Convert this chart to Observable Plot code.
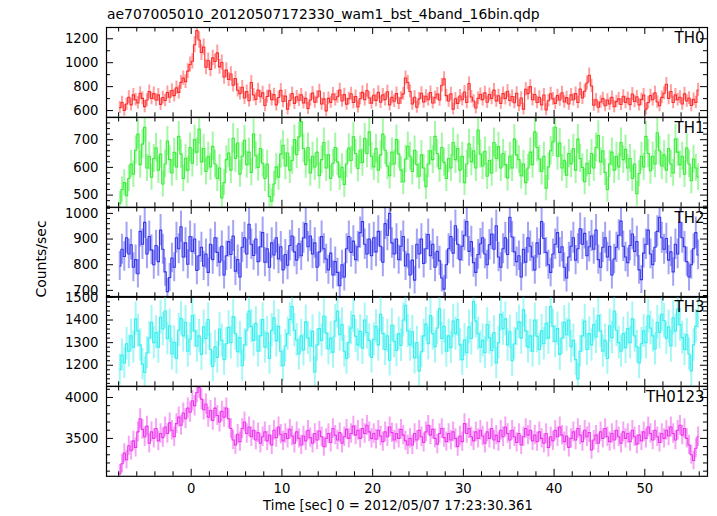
<!DOCTYPE html>
<html><head><meta charset="utf-8">
<script src="https://cdn.jsdelivr.net/npm/d3@7"></script>
<script src="https://cdn.jsdelivr.net/npm/@observablehq/plot@0.6"></script>
<style>
body{margin:0;background:#fff;}
#chart{position:relative;width:717px;height:516px;overflow:hidden;font-family:"DejaVu Sans",sans-serif;color:#000;}
#title{position:absolute;left:107px;top:7.7px;font-size:13.9px;line-height:1;white-space:nowrap;}
#ylab{position:absolute;left:41px;top:259px;font-size:14px;line-height:1;white-space:nowrap;transform:translate(-50%,-50%) rotate(-90deg);}
.panel{position:absolute;left:0;}
</style></head><body>
<div id="chart">
<div id="title">ae707005010_20120507172330_wam1_bst_4band_16bin.qdp</div>
<div id="ylab">Counts/sec</div>
</div>
<script>
// time bins: 0.25 s bins, first bin centre
const binStart = -7.875;
const binWidth = 0.25;
const xTickLabels = [0, 10, 20, 30, 40, 50];
const xLabel = "Time [sec] 0 = 2012/05/07 17:23:30.361";
const panelNames = ["TH0", "TH1", "TH2", "TH3", "TH0123"];

const th0 = [
625,668,602,655,712,648,731,690,664,745,702,633,689,758,701,742,
688,731,652,709,684,751,712,768,725,790,752,836,871,842,930,985,
1012,1150,1268,1190,1085,1130,962,1018,944,1040,1010,1082,965,1002,880,938,
860,905,812,868,770,742,795,705,758,682,835,730,694,772,715,748,
642,718,765,690,733,648,709,770,676,721,612,684,742,660,715,687,
731,664,702,618,688,746,671,712,764,655,698,598,702,669,738,690,
715,772,680,733,654,700,741,668,718,630,699,752,690,768,705,662,
728,685,752,670,731,692,757,648,710,678,742,661,705,740,872,835,
760,655,712,628,698,745,672,720,690,751,664,708,739,688,812,865,
725,680,741,612,699,660,722,690,755,668,826,714,680,622,702,735,
692,748,670,735,702,771,681,724,660,742,700,762,684,718,666,745,
640,705,612,778,742,800,690,735,668,712,648,730,606,682,741,698,
660,725,688,749,672,708,655,731,690,742,668,780,705,762,830,895,
805,645,690,628,672,700,640,688,655,710,632,675,698,651,720,668,
702,650,738,676,715,648,693,730,612,668,725,690,748,672,640,710,
745,820,702,760,668,731,690,712,655,740,680,705,642,695,668,772];

const th1 = [
470,520,545,498,560,612,575,662,720,610,684,745,598,640,565,632,
671,590,648,540,612,695,628,580,654,602,712,648,560,633,590,672,
615,700,655,738,620,668,585,640,602,676,612,560,598,490,545,628,
652,590,705,632,688,575,640,698,610,655,582,720,642,600,668,615,
560,612,495,478,540,602,565,648,680,605,652,590,625,700,646,710,
765,668,610,672,580,640,602,655,570,628,690,598,645,560,615,672,
620,565,600,538,612,670,625,710,650,596,662,618,705,650,728,640,
602,668,590,645,720,662,605,570,655,612,700,648,590,548,630,676,
640,585,662,610,568,645,598,530,612,660,628,712,650,595,672,618,
560,632,598,690,628,668,590,640,545,612,685,620,660,598,735,648,
605,658,568,625,580,690,632,675,598,650,610,562,640,598,702,645,
628,570,612,545,598,655,610,728,672,630,585,640,525,602,660,692,
745,640,688,598,626,572,650,612,668,590,702,632,600,548,615,578,
650,598,672,715,620,660,582,520,612,655,590,640,602,690,628,665,
598,632,560,612,505,578,640,602,712,650,588,640,612,725,660,605,
645,590,668,612,580,702,655,610,640,575,670,612,552,630,598,565];

const th2 = [
795,860,832,905,842,878,790,820,765,930,880,965,842,910,858,800,
875,812,935,860,772,695,750,826,790,905,862,948,830,885,802,910,
852,900,778,835,868,795,842,770,880,820,905,848,810,872,760,835,
890,840,912,775,820,752,868,905,842,958,880,836,900,812,870,925,
810,862,790,885,838,905,822,870,780,840,798,875,912,850,818,882,
835,905,960,870,912,842,885,790,850,910,862,822,780,845,760,812,
770,718,800,752,862,910,848,892,820,870,925,968,880,842,900,835,
905,850,930,872,810,960,915,1000,885,842,900,820,872,910,795,842,
760,818,740,880,842,900,805,862,918,835,880,790,852,815,748,705,
800,862,910,845,952,880,820,872,915,968,852,890,808,770,840,882,
905,842,800,878,920,860,952,830,790,862,905,840,985,908,850,812,
835,752,860,810,905,872,830,780,885,842,968,902,848,800,770,842,
880,925,848,870,790,748,830,872,905,818,862,940,880,922,835,870,
912,860,935,820,790,868,905,830,872,760,822,868,915,970,872,830,
808,875,920,852,890,780,742,845,880,935,842,800,868,930,985,905,
860,902,818,850,772,880,842,965,905,870,812,752,800,862,925,838];

const th3 = [
1180,1245,1210,1295,1262,1330,1280,1405,1352,1290,1205,1168,1255,1320,1390,1300,
1345,1280,1412,1360,1440,1318,1375,1250,1302,1230,1355,1408,1330,1390,1262,1315,
1420,1352,1285,1330,1248,1370,1318,1402,1270,1195,1282,1235,1360,1310,1225,1295,
1368,1300,1415,1340,1260,1322,1198,1290,1355,1440,1372,1310,1385,1262,1330,1402,
1280,1342,1230,1355,1410,1308,1372,1262,1198,1285,1340,1402,1460,1355,1312,1250,
1330,1268,1392,1320,1285,1350,1170,1290,1362,1310,1418,1342,1272,1320,1258,1395,
1440,1335,1380,1262,1230,1302,1365,1420,1328,1290,1350,1275,1400,1345,1310,1235,
1315,1372,1290,1425,1340,1270,1330,1222,1378,1305,1265,1340,1288,1400,1465,1352,
1290,1348,1232,1300,1175,1260,1330,1382,1295,1420,1340,1282,1365,1450,1318,1372,
1262,1330,1278,1395,1340,1402,1290,1225,1312,1255,1370,1318,1482,1395,1340,1280,
1310,1255,1380,1322,1265,1345,1210,1300,1425,1362,1405,1290,1348,1220,1295,1360,
1392,1320,1445,1352,1280,1330,1262,1400,1328,1270,1352,1295,1385,1320,1460,1372,
1305,1362,1248,1320,1390,1335,1400,1282,1310,1225,1140,1262,1330,1395,1270,1340,
1290,1380,1325,1420,1352,1262,1310,1230,1375,1322,1440,1355,1300,1262,1340,1278,
1362,1300,1405,1330,1282,1210,1295,1352,1300,1418,1365,1330,1272,1390,1345,1425,
1398,1320,1370,1285,1410,1352,1448,1380,1322,1270,1335,1250,1175,1290,1372,1440];

const th0123 = [
3070,3190,3320,3240,3410,3350,3470,3390,3580,3740,3610,3520,3650,3440,3580,3500,
3620,3470,3560,3510,3640,3560,3690,3600,3520,3680,3760,3660,3810,3740,3870,3820,
3960,3900,4060,4120,3980,3850,3920,3760,3840,3720,3870,3780,3700,3830,3760,3870,
3740,3620,3480,3420,3550,3460,3620,3700,3560,3640,3520,3600,3480,3570,3440,3520,
3580,3470,3540,3420,3600,3510,3640,3550,3470,3560,3500,3610,3530,3440,3580,3500,
3420,3530,3470,3600,3510,3440,3560,3480,3590,3520,3400,3500,3560,3450,3620,3540,
3480,3570,3440,3520,3610,3500,3560,3650,3540,3600,3500,3620,3560,3660,3580,3500,
3560,3490,3600,3530,3460,3580,3520,3640,3570,3480,3560,3500,3610,3540,3470,3420,
3500,3420,3560,3480,3600,3520,3450,3580,3660,3540,3610,3500,3430,3560,3620,3510,
3460,3560,3480,3580,3500,3400,3530,3460,3680,3560,3620,3520,3470,3580,3500,3600,
3530,3440,3580,3500,3620,3480,3540,3460,3600,3520,3640,3560,3480,3600,3520,3450,
3560,3420,3520,3620,3540,3600,3470,3540,3460,3580,3500,3440,3560,3390,3520,3470,
3600,3520,3640,3540,3460,3530,3390,3500,3580,3480,3620,3540,3460,3600,3520,3570,
3360,3480,3540,3440,3580,3500,3620,3520,3460,3560,3480,3600,3520,3440,3580,3500,
3560,3460,3600,3520,3430,3540,3470,3580,3500,3640,3560,3480,3600,3520,3450,3560,
3500,3600,3530,3640,3560,3480,3600,3660,3540,3620,3500,3420,3300,3230,3380,3520];

const th0Ticks = [600, 800, 1000, 1200];
const th1Ticks = [500, 600, 700];
const th2Ticks = [700, 800, 900, 1000];
const th3Ticks = [1200, 1300, 1400, 1500];
const th0123Ticks = [3500, 4000];

// layout / style
const W = 717, ML = 106, MR = 10, TOP = 27, PH = 89.8, BOT = 40;
const innerW = W - ML - MR;
const xDomain = [-9.336, 56.91];
const colors = ["#ff2b2b", "#35ee35", "#3535ee", "#35eeee", "#ee35ee"];
const panels = [
  {values: th0, ticks: th0Ticks, minorStep: 100, domain: [544, 1294]},
  {values: th1, ticks: th1Ticks, minorStep: 20, domain: [456, 780]},
  {values: th2, ticks: th2Ticks, minorStep: 20, domain: [673, 1023]},
  {values: th3, ticks: th3Ticks, minorStep: 20, domain: [1107, 1504]},
  {values: th0123, ticks: th0123Ticks, minorStep: 100, domain: [3037, 4134]}
];
const xMinor = d3.range(-8, 57, 2).filter(d => d % 10 !== 0);
const xMajor = xTickLabels;
const fmt = d => String(d);

const chart = document.getElementById("chart");
panels.forEach((p, k) => {
  const last = k === panels.length - 1;
  const data = p.values.map((v, i) => ({t: binStart + i * binWidth, v, e: Math.sqrt(v / binWidth)}));
  const [y0, y1] = p.domain;
  const yMinor = d3.range(Math.ceil(y0 / p.minorStep) * p.minorStep, y1, p.minorStep).filter(d => !p.ticks.includes(d));
  const yMajor = p.ticks.filter(d => d >= y0 && d <= y1);
  const tk = {stroke: "black", strokeWidth: 1};
  const marks = [
    Plot.ruleX(data, {x: "t", y1: d => d.v - d.e, y2: d => d.v + d.e, stroke: colors[k], strokeOpacity: 0.45, strokeWidth: 2, clip: true}),
    Plot.line(data, {x: "t", y: "v", curve: "step", stroke: colors[k], strokeWidth: 1.1, clip: true}),
    Plot.tickX(xMinor, {x: d => d, insetTop: PH - 4.5, ...tk}),
    Plot.tickX(xMinor, {x: d => d, insetBottom: PH - 4.5, ...tk}),
    Plot.tickX(xMajor, {x: d => d, insetTop: PH - 7, ...tk}),
    Plot.tickX(xMajor, {x: d => d, insetBottom: PH - 7, ...tk}),
    Plot.tickY(yMinor, {y: d => d, insetRight: innerW - 4, ...tk}),
    Plot.tickY(yMinor, {y: d => d, insetLeft: innerW - 4, ...tk}),
    Plot.tickY(yMajor, {y: d => d, insetRight: innerW - 7, ...tk}),
    Plot.tickY(yMajor, {y: d => d, insetLeft: innerW - 7, ...tk}),
    Plot.frame({stroke: "black", strokeWidth: 1.2}),
    Plot.axisY(yMajor, {anchor: "left", tickSize: 0, tickPadding: 8, label: null, tickFormat: fmt, fontSize: 13.2}),
    Plot.text([panelNames[k]], {text: d => d, frameAnchor: "top-right", textAnchor: "end", lineAnchor: "top", dx: -3, dy: 4.5, fontSize: 15, fill: "black"})
  ];
  if (last) {
    marks.push(Plot.axisX(xMajor, {anchor: "bottom", tickSize: 0, tickPadding: 7, label: null, tickFormat: fmt, fontSize: 13.2}));
    marks.push(Plot.text([xLabel], {text: d => d, frameAnchor: "bottom", lineAnchor: "top", dy: 24, dx: -9, fontSize: 13.2, fill: "black"}));
  }
  const svg = Plot.plot({
    width: W, height: PH + (last ? BOT : 0),
    marginLeft: ML, marginRight: MR, marginTop: 0, marginBottom: last ? BOT : 0,
    x: {domain: xDomain, ...(last ? {} : {axis: null})},
    y: {domain: p.domain},
    style: {overflow: "visible", background: "transparent", fontFamily: "DejaVu Sans, sans-serif", fontSize: "13.2px", color: "black"},
    marks
  });
  const div = document.createElement("div");
  div.className = "panel";
  div.style.top = (TOP + k * PH) + "px";
  div.appendChild(svg);
  chart.appendChild(div);
});
</script>
</body></html>
